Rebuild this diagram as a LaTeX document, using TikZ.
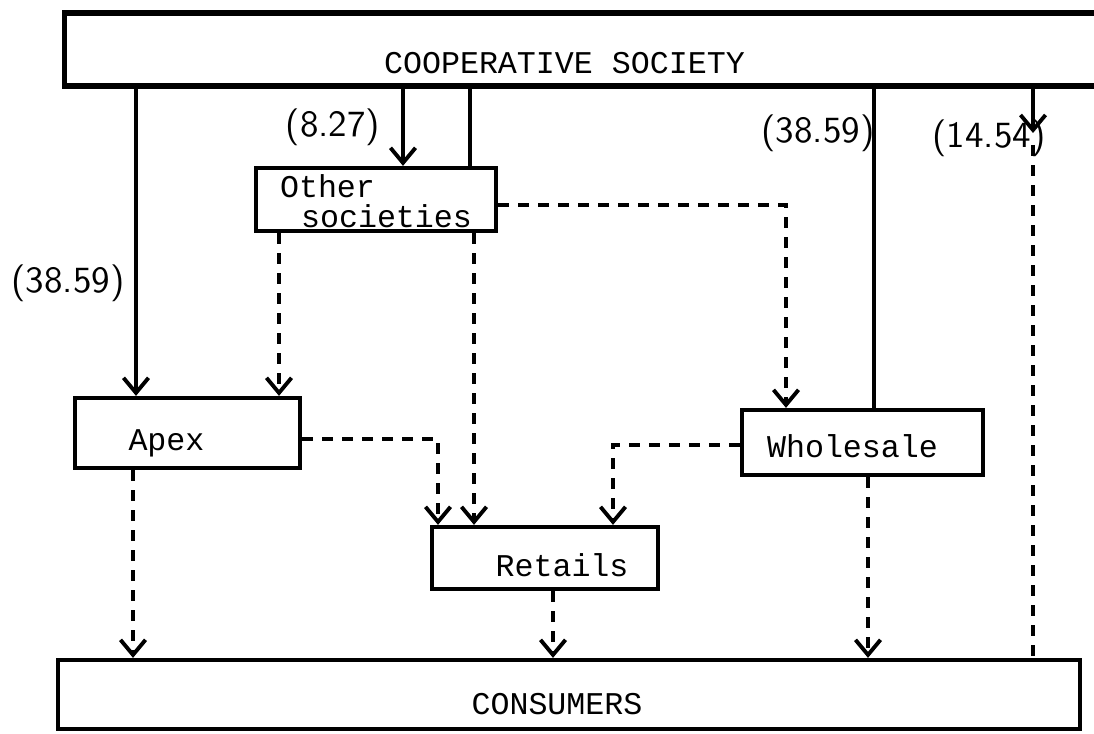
\documentclass[tikz,border=0pt]{standalone}
\usepackage{fontspec}
\setmonofont{Liberation Mono}
\usetikzlibrary{arrows.meta, positioning}

\begin{document}
\begin{tikzpicture}[
  x=0.01cm, y=-0.01cm,
  box/.style={draw, line width=1.2pt, inner sep=0pt},
  boxtxt/.style={font=\ttfamily\fontsize{9}{10.8}\selectfont, inner sep=0pt},
  share/.style={font=\sffamily\fontsize{10.5}{12}\selectfont, inner sep=0pt},
  tip/.style={-{Straight Barb[length=1.5mm, width=2.5mm, line width=1.1pt]}},
  supply/.style={line width=0.9pt, tip},
  link/.style={line width=0.9pt},
  route/.style={line width=0.9pt, dash pattern=on 1.1mm off 0.9mm, tip},
]
  \useasboundingbox (0,0) rectangle (1094,734);

  % boxes
  \node[box, line width=1.5pt, minimum width=10.55cm, minimum height=0.73cm,
        label={[boxtxt, xshift=-0.28cm, yshift=-0.14cm]center:COOPERATIVE SOCIETY}]
        (coop) at (592.5,49.5) {};
  \node[box, minimum width=2.40cm, minimum height=0.63cm,
        label={[boxtxt, align=left, yshift=-0.02cm]center:{Other\\[-2.2pt]\hspace*{0.21cm}societies}}]
        (other) at (376,199.5) {};
  \node[box, minimum width=2.25cm, minimum height=0.70cm,
        label={[boxtxt, xshift=-0.21cm, yshift=-0.10cm]center:Apex}]
        (apex) at (187.5,433) {};
  \node[box, minimum width=2.41cm, minimum height=0.65cm,
        label={[boxtxt, xshift=-0.10cm, yshift=-0.04cm]center:Wholesale}]
        (wholesale) at (862.5,442.5) {};
  \node[box, minimum width=2.26cm, minimum height=0.62cm,
        label={[boxtxt, xshift=0.17cm, yshift=-0.07cm]center:Retails}]
        (retail) at (545,558) {};
  \node[box, minimum width=10.22cm, minimum height=0.69cm,
        label={[boxtxt, xshift=-0.12cm, yshift=-0.10cm]center:CONSUMERS}]
        (cons) at (569,694.5) {};

  % shares
  \node[share] (s827) at (333,127) {(8.27)};
  \node[share] (s3859a) at (68,283) {(38.59)};
  \node[share] (s3859b) at (818,133) {(38.59)};
  \node[share] (s1454) at (989,138) {(14.54)};

  % solid lines from the society
  \draw[supply] (coop.south -| 136,0) -- (apex.north -| 136,0);
  \draw[supply] (coop.south -| 403,0) -- (other.north -| 403,0);
  \draw[link] (coop.south -| 470,0) -- (other.north -| 470,0);
  \draw[link] (coop.south -| 874,0) -- (wholesale.north -| 874,0);
  \coordinate (split) at (1033,133);
  \draw[supply, line width=1.4pt] (coop.south -| split) -- (split);
  \draw[route, -] ([yshift=-0.12cm]split) -- (cons.north -| split);

  % dashed flows
  \draw[route] (other.south -| 279,0) -- (apex.north -| 279,0);
  \draw[route] (other.south -| 474,0) -- (retail.north -| 474,0);
  \draw[route] (other.east |- 0,205) -| (wholesale.north -| 786,0);
  \draw[route] (apex.east |- 0,439) -| (retail.north -| 438,0);
  \draw[route] (wholesale.west |- 0,445) -| (retail.north -| 613,0);
  \draw[route] (apex.south -| 133,0) -- (cons.north -| 133,0);
  \draw[route] (retail.south -| 553,0) -- (cons.north -| 553,0);
  \draw[route] (wholesale.south -| 868,0) -- (cons.north -| 868,0);
\end{tikzpicture}
\end{document}
